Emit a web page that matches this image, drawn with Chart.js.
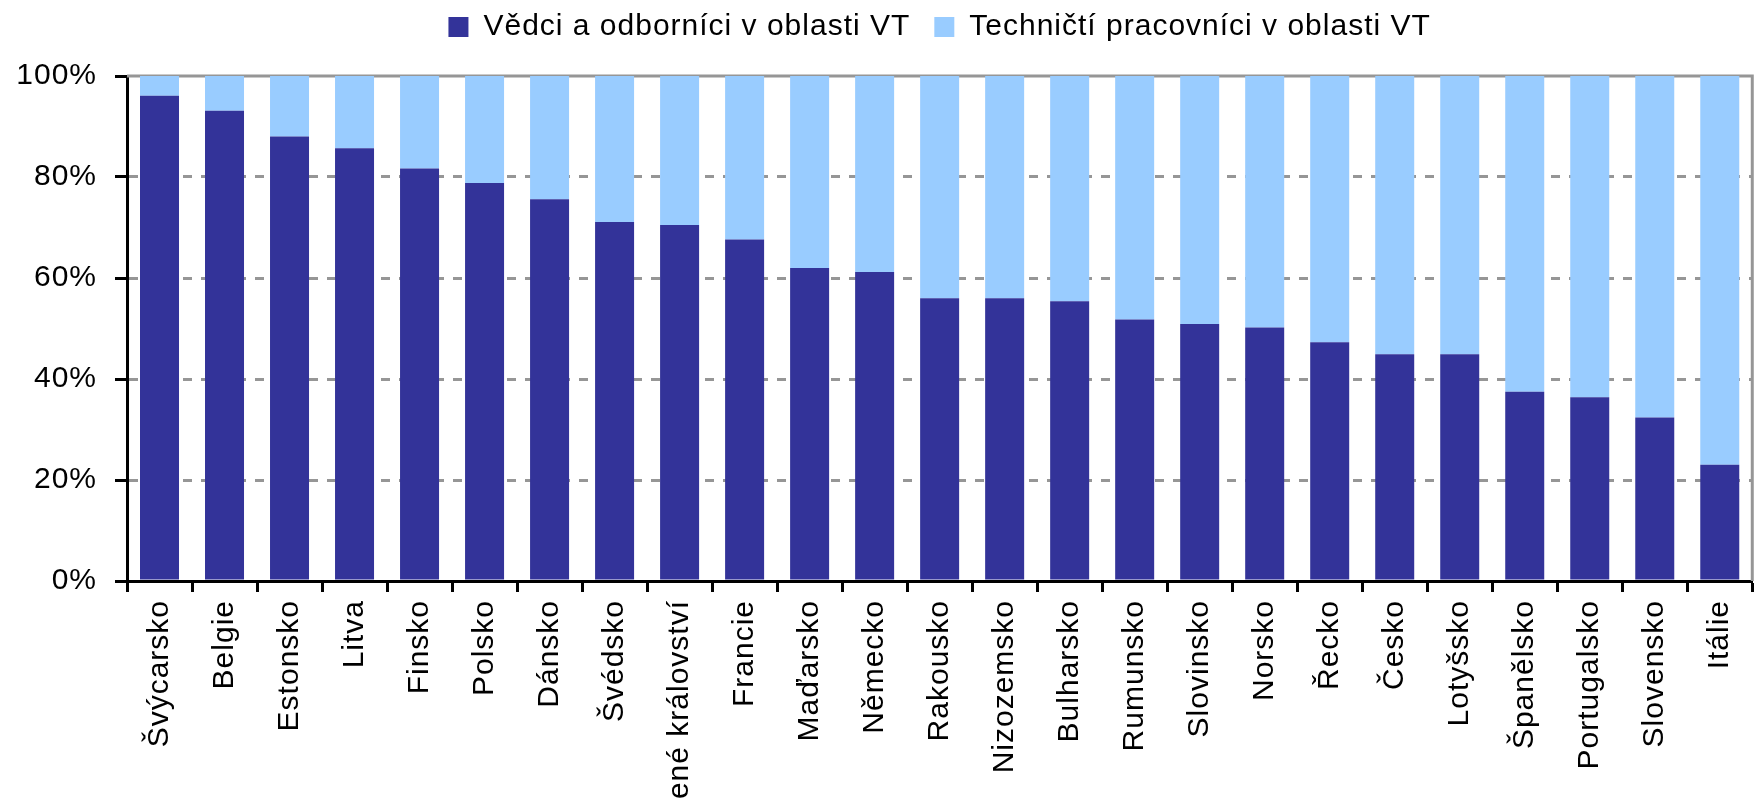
<!DOCTYPE html>
<html>
<head>
<meta charset="utf-8">
<script src="https://cdn.jsdelivr.net/npm/chart.js@4/dist/chart.umd.min.js"></script>
<style>
  body { margin: 0; background: #fff; }
  #wrap { width: 1764px; height: 798px; }
</style>
</head>
<body>
<div id="wrap"><canvas id="shareChart"></canvas></div>
<script>
// countries, sorted like the source
const countries = ['Švýcarsko', 'Belgie', 'Estonsko', 'Litva', 'Finsko', 'Polsko', 'Dánsko', 'Švédsko',
  'Spojené království', 'Francie', 'Maďarsko', 'Německo', 'Rakousko', 'Nizozemsko', 'Bulharsko',
  'Rumunsko', 'Slovinsko', 'Norsko', 'Řecko', 'Česko', 'Lotyšsko', 'Španělsko', 'Portugalsko',
  'Slovensko', 'Itálie'];

// share in %
const scientists = [96.1, 93.1, 88.0, 85.7, 81.7, 78.8, 75.6, 71.1, 70.5, 67.6, 62.0, 61.2, 56.0,
  56.0, 55.4, 51.8, 50.9, 50.2, 47.3, 44.9, 44.9, 37.5, 36.4, 32.4, 23.0];
const technicians = [3.9, 6.9, 12.0, 14.3, 18.3, 21.2, 24.4, 28.9, 29.5, 32.4, 38.0, 38.8, 44.0,
  44.0, 44.6, 48.2, 49.1, 49.8, 52.7, 55.1, 55.1, 62.5, 63.6, 67.6, 77.0];

const yTicks = [0, 20, 40, 60, 80, 100];
const seriesNames = ['Vědci a odborníci v oblasti VT', 'Techničtí pracovníci v oblasti VT'];

const FONT = 'Liberation Sans, Arial, sans-serif';

// old excel font is a bit wider, so space the letters a little
const spacing = {
  id: 'spacing',
  beforeUpdate(chart) { chart.ctx.letterSpacing = '1px'; },
  beforeDraw(chart) { chart.ctx.letterSpacing = '1px'; }
};

// legend sits higher than chart.js puts it, plot starts lower
const legendShift = {
  id: 'legendShift',
  beforeInit(chart) {
    const lg = chart.legend;
    const fit = lg.fit;
    lg.fit = function() { fit.call(this); this.height += 12; };
    const draw = lg.draw;
    lg.draw = function() {
      this.ctx.save();
      this.ctx.translate(0, -12);
      draw.call(this);
      this.ctx.restore();
    };
  }
};

// gray frame on top / right of the plot area (like excel)
const plotFrame = {
  id: 'plotFrame',
  beforeDatasetsDraw(chart) {
    const { ctx, chartArea: a } = chart;
    ctx.save();
    ctx.strokeStyle = '#969696';
    ctx.lineWidth = 3;
    ctx.beginPath();
    ctx.moveTo(a.left, a.top);
    ctx.lineTo(a.right, a.top);
    ctx.lineTo(a.right, a.bottom);
    ctx.stroke();
    ctx.restore();
  }
};

const ctx = document.getElementById('shareChart').getContext('2d');
const chart = new Chart(ctx, {
  type: 'bar',
  data: {
    labels: countries,
    datasets: [{
      label: seriesNames[0],
      data: scientists,
      backgroundColor: '#333399',
      barPercentage: 0.6,
      categoryPercentage: 1
    }, {
      label: seriesNames[1],
      data: technicians,
      backgroundColor: '#99CCFF',
      barPercentage: 0.6,
      categoryPercentage: 1
    }]
  },
  options: {
    responsive: true,
    maintainAspectRatio: false,
    animation: false,
    layout: { padding: { left: 0, right: 6, top: 0, bottom: 0 } },
    plugins: {
      legend: {
        fullSize: false,
        labels: {
          color: '#000',
          font: { family: FONT, size: 30 },
          boxWidth: 20,
          boxHeight: 20,
          padding: 24
        }
      },
      tooltip: { enabled: false }
    },
    scales: {
      x: {
        stacked: true,
        grid: {
          offset: true,
          drawOnChartArea: false,
          tickLength: 11,
          tickColor: '#000',
          tickWidth: 3
        },
        border: { color: '#000', width: 3 },
        ticks: {
          color: '#000',
          font: { family: FONT, size: 30 },
          minRotation: 90,
          maxRotation: 90,
          autoSkip: false,
          padding: 8
        },
        afterFit(scale) { scale.height = 217; }
      },
      y: {
        stacked: true,
        min: 0,
        max: 100,
        afterBuildTicks(scale) { scale.ticks = yTicks.map(v => ({ value: v })); },
        grid: {
          color: ctx => (ctx.tick && ctx.tick.value > 0 && ctx.tick.value < 100) ? '#969696' : 'rgba(0,0,0,0)',
          lineWidth: 3,
          tickLength: 12,
          tickColor: '#000',
          tickWidth: 3,
          tickBorderDash: []
        },
        border: { color: '#000', width: 3, dash: [9, 9] },
        ticks: {
          color: '#000',
          font: { family: FONT, size: 30 },
          padding: 18,
          callback: v => v + '%'
        },
        afterFit(scale) { scale.width = 127; }
      }
    }
  },
  plugins: [spacing, legendShift, plotFrame]
});
</script>
</body>
</html>
